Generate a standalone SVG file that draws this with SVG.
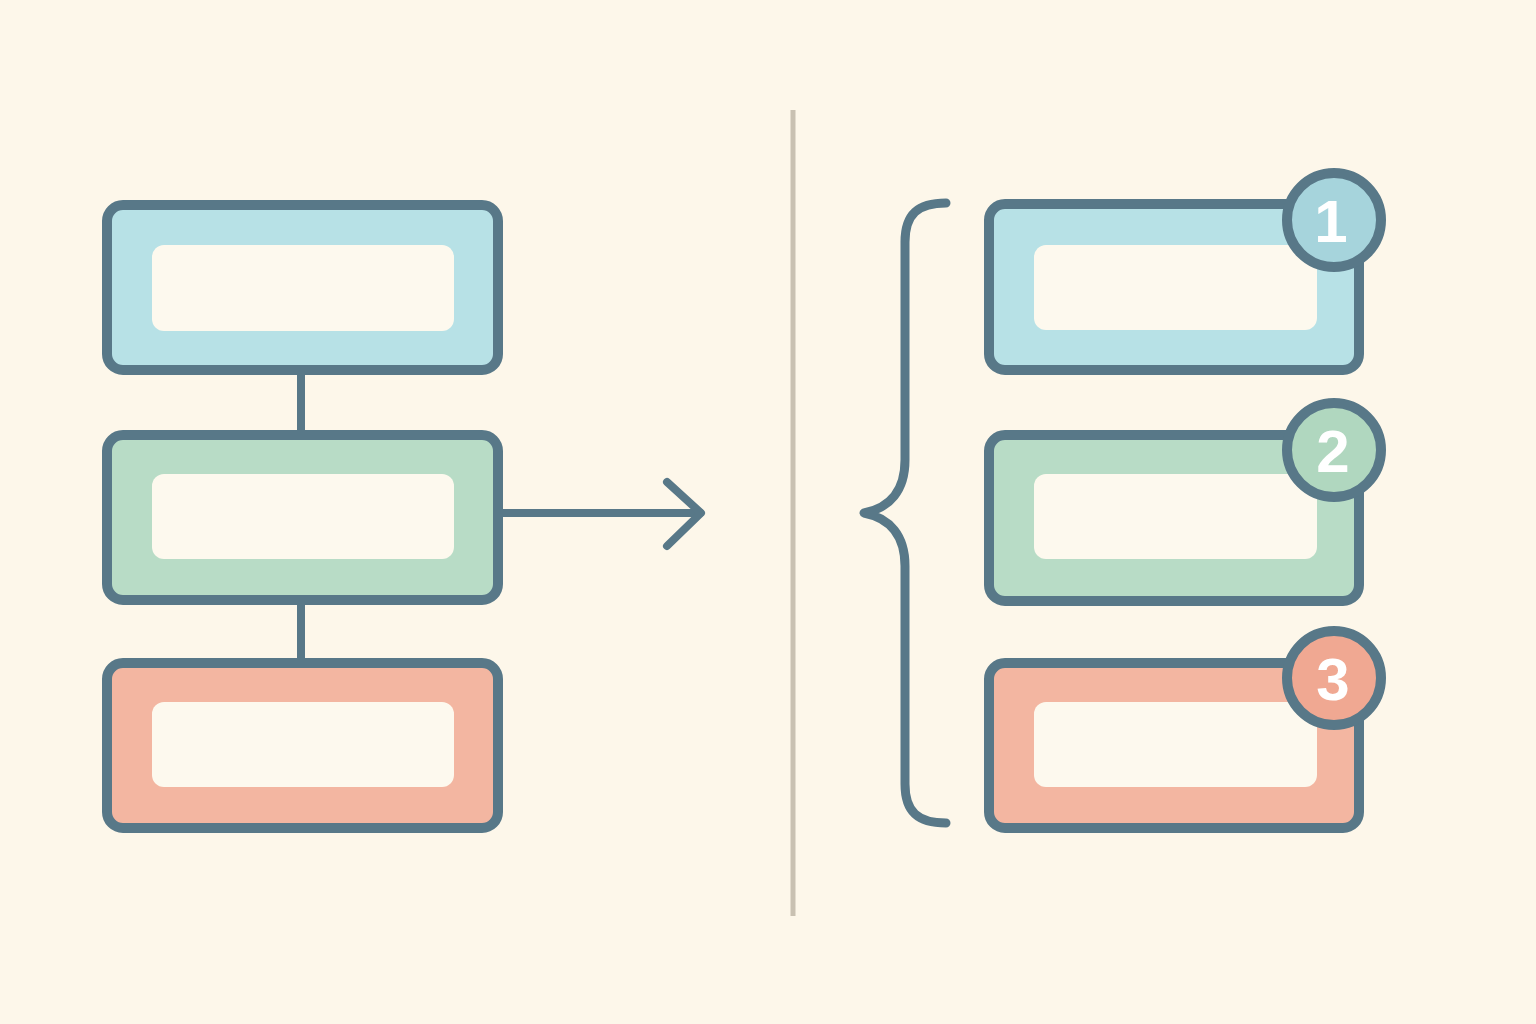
<svg xmlns="http://www.w3.org/2000/svg" width="1536" height="1024" viewBox="0 0 1536 1024">
<style>
.box{stroke:#587888;stroke-width:10;stroke-linejoin:round}
.inner{fill:#fdf9ee}
.blue{fill:#b7e1e6}
.green{fill:#b8dcc6}
.red{fill:#f3b6a1}
.line{fill:none;stroke:#587888;stroke-width:8;stroke-linecap:round;stroke-linejoin:round}
.brace{fill:none;stroke:#587888;stroke-width:9;stroke-linecap:round;stroke-linejoin:round}
.badge{stroke:#587888;stroke-width:10}
.num{font-family:"Liberation Sans",Arial,sans-serif;font-weight:bold;font-size:60px;fill:#ffffff;text-anchor:middle}
</style>
<rect width="1536" height="1024" fill="#fdf7ea"/>
<g id="connectors">
<line class="line" x1="301" y1="374" x2="301" y2="432"/>
<line class="line" x1="301" y1="604" x2="301" y2="660"/>
<line class="line" x1="502" y1="513" x2="700" y2="513"/>
<polyline class="line" points="667,482 701,513 667,546"/>
<line x1="793" y1="110" x2="793" y2="916" stroke="#c9c1b2" stroke-width="5"/>
<path class="brace" d="M946,203 C918,203 905,214 905,242 L905,460 C905,490 890,508 864,513 C890,518 905,536 905,566 L905,784 C905,812 918,823 946,823"/>
</g>
<g id="left1"><rect class="box blue" x="107" y="205" width="391" height="165" rx="16"/><rect class="inner" x="152" y="245" width="302" height="86" rx="12"/></g>
<g id="left2"><rect class="box green" x="107" y="435" width="391" height="165" rx="16"/><rect class="inner" x="152" y="474" width="302" height="85" rx="12"/></g>
<g id="left3"><rect class="box red" x="107" y="663" width="391" height="165" rx="16"/><rect class="inner" x="152" y="702" width="302" height="85" rx="12"/></g>
<g id="right1"><rect class="box blue" x="989" y="204" width="370" height="166" rx="16"/><rect class="inner" x="1034" y="245" width="283" height="85" rx="12"/><circle class="badge" cx="1334" cy="220" r="47" fill="#a6d4dc"/><text class="num" x="1331" y="242">1</text></g>
<g id="right2"><rect class="box green" x="989" y="435" width="370" height="166" rx="16"/><rect class="inner" x="1034" y="474" width="283" height="85" rx="12"/><circle class="badge" cx="1334" cy="450" r="47" fill="#b0d7bf"/><text class="num" x="1333" y="472">2</text></g>
<g id="right3"><rect class="box red" x="989" y="663" width="370" height="165" rx="16"/><rect class="inner" x="1034" y="702" width="283" height="85" rx="12"/><circle class="badge" cx="1334" cy="678" r="47" fill="#f0a892"/><text class="num" x="1333" y="700">3</text></g>
</svg>
